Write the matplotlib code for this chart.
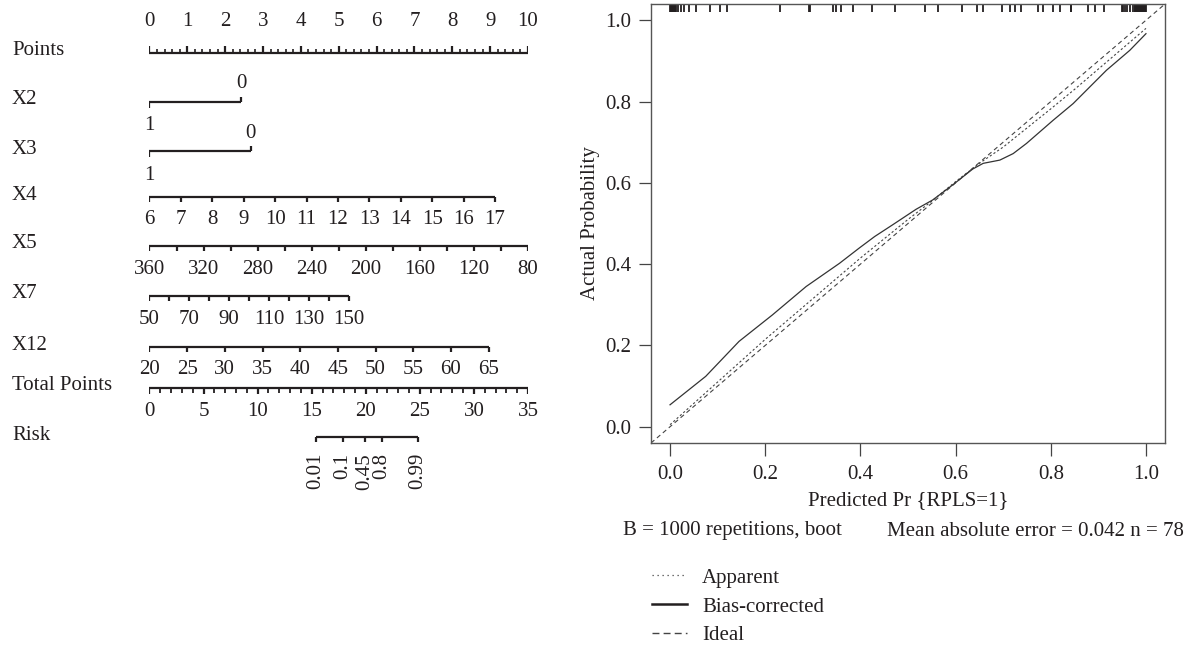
import numpy as np
import matplotlib.pyplot as plt
from matplotlib.lines import Line2D

plt.rcParams['font.family'] = ['Liberation Serif', 'DejaVu Serif']
plt.rcParams['font.size'] = 15
INK = '#231f20'

# ---- nomogram scales (value -> points, linear per variable) ----
points_ticks = [0, 1, 2, 3, 4, 5, 6, 7, 8, 9, 10]
x2_levels = ['1', '0']
x2_points = [0.0, 2.43]
x3_levels = ['1', '0']
x3_points = [0.0, 2.67]
x4_ticks = [6, 7, 8, 9, 10, 11, 12, 13, 14, 15, 16, 17]
x4_labels = [6, 7, 8, 9, 10, 11, 12, 13, 14, 15, 16, 17]
x4_points_at_max = 9.13
x5_ticks = [360, 340, 320, 300, 280, 260, 240, 220, 200, 180, 160, 140, 120, 100, 80]
x5_labels = [360, 320, 280, 240, 200, 160, 120, 80]
x5_points_at_max = 10.0
x7_ticks = [50, 60, 70, 80, 90, 100, 110, 120, 130, 140, 150]
x7_labels = [50, 70, 90, 110, 130, 150]
x7_points_at_max = 5.26
x12_ticks = [20, 25, 30, 35, 40, 45, 50, 55, 60, 65]
x12_labels = [20, 25, 30, 35, 40, 45, 50, 55, 60, 65]
x12_points_at_max = 8.96
total_max = 35
total_labels = [0, 5, 10, 15, 20, 25, 30, 35]
risk_ticks = [0.01, 0.1, 0.45, 0.8, 0.99]
risk_labels = ['0.01', '0.1', '0.45', '0.8', '0.99']
risk_slope = 0.978      # linear predictor per total point
risk_mid = 20.1         # total points where risk = 0.5

# ---- calibration curves ----
bias_x = [0.0, 0.075, 0.145, 0.215, 0.286, 0.356, 0.398, 0.43, 0.468, 0.517, 0.552,
          0.594, 0.636, 0.658, 0.693, 0.721, 0.749, 0.805, 0.847, 0.882, 0.917, 0.966, 1.0]
bias_y = [0.054, 0.124, 0.21, 0.275, 0.345, 0.402, 0.44, 0.468, 0.497, 0.535, 0.558,
          0.595, 0.634, 0.648, 0.656, 0.672, 0.697, 0.754, 0.795, 0.836, 0.877, 0.926, 0.967]
app_x = [0.0, 0.1, 0.2, 0.3, 0.4, 0.5, 0.55, 0.6, 0.65, 0.7, 0.75, 0.8, 0.85, 0.9, 0.95, 1.0]
app_y = [0.005, 0.11, 0.215, 0.315, 0.415, 0.51, 0.555, 0.603, 0.648, 0.688, 0.735,
         0.782, 0.83, 0.88, 0.93, 0.98]
ideal = [-0.04, 1.04]
rug = [0.000, 0.002, 0.003, 0.004, 0.005, 0.006, 0.007, 0.008, 0.009, 0.010, 0.011, 0.012,
       0.016, 0.023, 0.030, 0.040, 0.055, 0.084, 0.105, 0.120, 0.232, 0.292, 0.294,
       0.343, 0.349, 0.360, 0.385, 0.425, 0.472, 0.535, 0.564, 0.613, 0.646, 0.657,
       0.697, 0.714, 0.724, 0.737, 0.773, 0.783, 0.804, 0.819, 0.842, 0.843,
       0.878, 0.893, 0.912, 0.950, 0.952, 0.956, 0.960, 0.966, 0.973,
       0.977, 0.978, 0.979, 0.980, 0.981, 0.982, 0.983, 0.984, 0.985, 0.986, 0.987,
       0.988, 0.989, 0.990, 0.991, 0.992, 0.993, 0.994, 0.995, 0.996, 0.997, 0.998,
       0.999, 1.000]

W, H = 1189, 648
fig = plt.figure(figsize=(W / 100, H / 100), dpi=100)

# nomogram axes: x in points, y in pixel rows
rect = [149.5 / W, 0, 378.5 / W, 1]
ax = fig.add_axes(rect)
ax.set_xlim(0, 10)
ax.set_ylim(H, 0)
ax.axis('off')
axt = fig.add_axes(rect)
axt.set_xlim(0, total_max)
axt.set_ylim(H, 0)
axt.axis('off')

LW = 1.6
rows = {'Points': 52.5, 'X2': 101.5, 'X3': 151, 'X4': 197, 'X5': 246,
        'X7': 296, 'X12': 347, 'Total Points': 388, 'Risk': 437}
for name, y in rows.items():
    fig.text(12 / W, 1 - (y - 2) / H, name, color=INK, va='center', ha='left')


def scale(a, pos, y, ticks_up=False, tl=5):
    a.plot([min(pos), max(pos)], [y, y], color=INK, lw=LW, solid_capstyle='butt')
    d = -tl if ticks_up else tl
    a.vlines(pos, y, y + d, color=INK, lw=LW)


def to_pts(vals, v0, v1, pmax):
    return [(v - v0) / (v1 - v0) * pmax for v in vals]


# Points
y = rows['Points']
minor = np.arange(0, 10.01, 0.2)
ax.plot([0, 10], [y, y], color=INK, lw=LW, solid_capstyle='butt')
ax.vlines(minor, y, y - 3.5, color=INK, lw=1.2)
ax.vlines(points_ticks, y, y - 6.5, color=INK, lw=LW)
for p in points_ticks:
    ax.text(p, y - 31, str(p), ha='center', va='center', color=INK)

# binary variables
for key, lev, pts in [('X2', x2_levels, x2_points), ('X3', x3_levels, x3_points)]:
    y = rows[key]
    ax.plot(pts, [y, y], color=INK, lw=LW, solid_capstyle='butt')
    ax.vlines(pts[0], y, y + 6, color=INK, lw=LW)
    ax.vlines(pts[1], y, y - 5, color=INK, lw=LW)
    ax.text(pts[0], y + 24, lev[0], ha='center', va='center', color=INK)
    ax.text(pts[1], y - 18, lev[1], ha='center', va='center', color=INK)

# continuous variables
for key, ticks, labels, pmax in [('X4', x4_ticks, x4_labels, x4_points_at_max),
                                 ('X5', x5_ticks, x5_labels, x5_points_at_max),
                                 ('X7', x7_ticks, x7_labels, x7_points_at_max),
                                 ('X12', x12_ticks, x12_labels, x12_points_at_max)]:
    y = rows[key]
    v0, v1 = ticks[0], ticks[-1]
    scale(ax, to_pts(ticks, v0, v1, pmax), y)
    for v, p in zip(labels, to_pts(labels, v0, v1, pmax)):
        ax.text(p, y + 23, str(v), ha='center', va='center', color=INK)

# Total points
y = rows['Total Points']
axt.plot([0, total_max], [y, y], color=INK, lw=LW, solid_capstyle='butt')
axt.vlines(np.arange(0, total_max + 1), y, y + 4.5, color=INK, lw=1.3)
axt.vlines(total_labels, y, y + 6, color=INK, lw=LW)
for v in total_labels:
    axt.text(v, y + 24, str(v), ha='center', va='center', color=INK)

# Risk
y = rows['Risk']
r = np.array(risk_ticks)
risk_pos = risk_mid + np.log(r / (1 - r)) / risk_slope
scale(axt, risk_pos, y)
for p, lab in zip(risk_pos, risk_labels):
    axt.text(p, y + 16, lab, ha='center', va='top', rotation=90, color=INK)

# ---- calibration plot ----
axc = fig.add_axes([651 / W, 1 - 443 / H, 514 / W, 439 / H])
axc.set_xlim(-0.04, 1.04)
axc.set_ylim(-0.04, 1.04)
axc.plot(ideal, ideal, color='#444444', lw=0.8, ls=(0, (4, 3)))
axc.plot(app_x, app_y, color='#444444', lw=0.8, ls=(0, (2, 2)))
axc.plot(bias_x, bias_y, color='#333333', lw=0.9)
axc.vlines(rug, 1.02, 1.04, color=INK, lw=1.3)
ticks = [0.0, 0.2, 0.4, 0.6, 0.8, 1.0]
axc.set_xticks(ticks)
axc.set_xticklabels([f'{t:.1f}' for t in ticks])
axc.set_yticks(ticks)
axc.set_yticklabels([f'{t:.1f}' for t in ticks])
axc.tick_params(direction='out', length=9, width=0.9, color='#444444',
                labelcolor=INK, pad=5)
axc.tick_params(axis='x', pad=7)
for s in axc.spines.values():
    s.set_color('#555555')
    s.set_linewidth(1.0)
axc.set_ylabel('Actual Probability', color=INK, labelpad=4)
axc.set_xlabel('Predicted Pr {RPLS=1}', color=INK, labelpad=5)

fig.text(623 / W, 1 - 531 / H, 'B = 1000 repetitions, boot', color=INK, va='center')
fig.text(1184 / W, 1 - 531 / H, 'Mean absolute error = 0.042 n = 78', color=INK,
         va='center', ha='right')

handles = [Line2D([], [], color='#444444', lw=0.9, ls=(0, (1, 3))),
           Line2D([], [], color=INK, lw=1.8),
           Line2D([], [], color='#444444', lw=1.0, ls=(0, (5, 3)))]
fig.legend(handles, ['Apparent', 'Bias-corrected', 'Ideal'], loc='upper left',
           bbox_to_anchor=(652 / W, 1 - 568 / H), frameon=False, handlelength=1.7,
           handletextpad=0.7, labelspacing=0.45, borderpad=0, borderaxespad=0,
           labelcolor=INK)

fig.savefig('out.png', dpi=100)
